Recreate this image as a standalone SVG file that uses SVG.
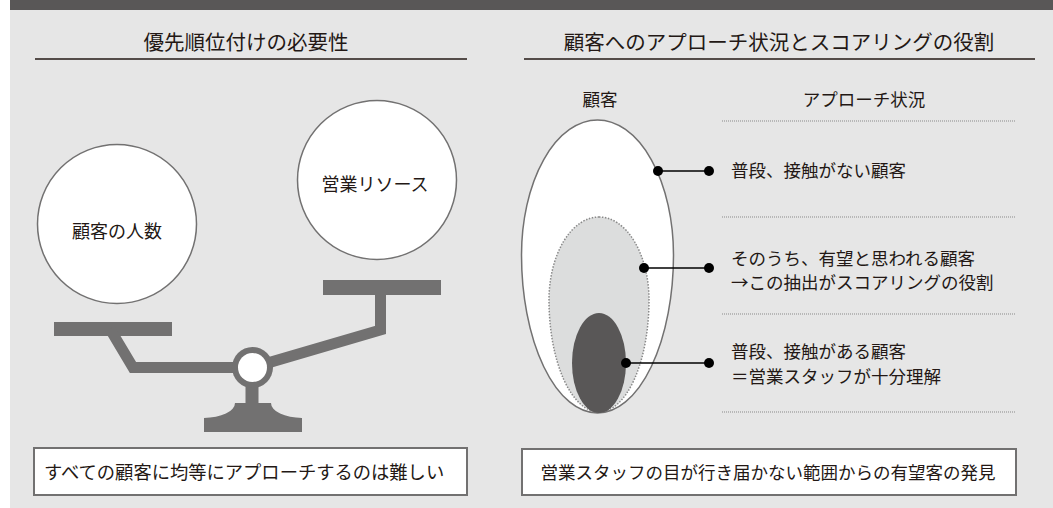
<svg xmlns="http://www.w3.org/2000/svg" width="1053" height="508" viewBox="0 0 1053 508">
<style>
text{font-family:"Noto Sans CJK JP","Noto Sans CJK SC",sans-serif;fill:#231815}
.t{font-size:20.5px}
.l{font-size:18px}
.b{font-size:18.3px}
.s{font-size:17.5px}
.circ{fill:#fff;stroke:#727171;stroke-width:1.5}
.scale{fill:#727171}
.arm{fill:none;stroke:#727171;stroke-width:11;stroke-linejoin:miter}
.box{fill:#fff;stroke:#727171;stroke-width:2}
.dot{stroke:#898989;stroke-width:1;stroke-dasharray:1 1;fill:none}
.conn{stroke:#000;stroke-width:1.5;fill:none}
.cd{fill:#000}
</style>
<rect x="10" y="0" width="1043" height="10" fill="#595757"/>
<rect x="10" y="10" width="1043" height="498" fill="#e6e6e6"/>

<g id="left-title">
<text class="t" x="246" y="50" text-anchor="middle">優先順位付けの必要性</text>
<line x1="35" y1="59" x2="467" y2="59" stroke="#231815" stroke-width="1.5"/>
</g>
<g id="right-title">
<text class="t" x="779" y="50" text-anchor="middle">顧客へのアプローチ状況とスコアリングの役割</text>
<line x1="524" y1="59" x2="1035" y2="59" stroke="#231815" stroke-width="1.5"/>
</g>

<g id="scale">
<rect class="scale" x="54" y="322" width="118" height="14"/>
<rect class="scale" x="323" y="280" width="118" height="15"/>
<polyline class="arm" points="110,329 133,367.5 252,367.5"/>
<polyline class="arm" points="252,367.5 380.5,330 380.5,290"/>
<rect class="scale" x="245.5" y="380" width="13" height="26"/>
<path class="scale" d="M204,432 V418 A31,15 0 0 0 235,403 H271 A31,15 0 0 0 302,418 V432 Z"/>
<circle class="scale" cx="252.5" cy="367.5" r="20.5"/>
<circle cx="252.5" cy="367.5" r="14.5" fill="#fff"/>
</g>

<g id="node-customers">
<circle class="circ" cx="117" cy="224" r="79.5"/>
<text class="l" x="117" y="238" text-anchor="middle">顧客の人数</text>
</g>
<g id="node-resources">
<circle class="circ" cx="377" cy="180" r="79.5"/>
<text class="l" x="375" y="191" text-anchor="middle">営業リソース</text>
</g>

<g id="box-left">
<rect class="box" x="34" y="448" width="433" height="47"/>
<text class="b" x="44" y="479">すべての顧客に均等にアプローチするのは難しい</text>
</g>

<g id="labels-right">
<text class="s" x="600" y="106" text-anchor="middle">顧客</text>
<text class="s" x="864" y="106" text-anchor="middle">アプローチ状況</text>
<line class="dot" x1="722" y1="121" x2="1015" y2="121"/>
<line class="dot" x1="722" y1="217" x2="1015" y2="217"/>
<line class="dot" x1="722" y1="314" x2="1015" y2="314"/>
<line class="dot" x1="722" y1="412" x2="1015" y2="412"/>
</g>

<g id="egg-all">
<path d="M597.5,120 A76,135 0 0 1 673.5,255 A76,158 0 0 1 597.5,413 A76,158 0 0 1 521.5,255 A76,135 0 0 1 597.5,120 Z" fill="#fff" stroke="#727171" stroke-width="1.5"/>
</g>
<g id="egg-prospect">
<path d="M599,217 A50,83 0 0 1 649,300 A50,112 0 0 1 599,412 A50,112 0 0 1 549,300 A50,83 0 0 1 599,217 Z" fill="#dcdddd" stroke="#898989" stroke-width="1.5" stroke-dasharray="1.5 1.5"/>
</g>
<g id="egg-contact">
<ellipse cx="599" cy="363" rx="27" ry="50" fill="#595757"/>
</g>

<g id="connectors">
<line class="conn" x1="658" y1="171" x2="709" y2="171"/>
<circle class="cd" cx="658" cy="171" r="5"/>
<circle class="cd" cx="709" cy="171" r="5"/>
<line class="conn" x1="644" y1="268" x2="709" y2="268"/>
<circle class="cd" cx="644" cy="268" r="5"/>
<circle class="cd" cx="709" cy="268" r="5"/>
<line class="conn" x1="626" y1="363" x2="709" y2="363"/>
<circle class="cd" cx="626" cy="363" r="5"/>
<circle class="cd" cx="709" cy="363" r="5"/>
</g>

<g id="desc-1">
<text class="s" x="731" y="177">普段、接触がない顧客</text>
</g>
<g id="desc-2">
<text class="s" x="731" y="265">そのうち、有望と思われる顧客</text>
<text class="s" x="731" y="289">→この抽出がスコアリングの役割</text>
</g>
<g id="desc-3">
<text class="s" x="731" y="358">普段、接触がある顧客</text>
<text class="s" x="731" y="383">＝営業スタッフが十分理解</text>
</g>

<g id="box-right">
<rect class="box" x="522" y="449" width="494" height="46"/>
<text class="s" x="768" y="479" text-anchor="middle">営業スタッフの目が行き届かない範囲からの有望客の発見</text>
</g>
</svg>
